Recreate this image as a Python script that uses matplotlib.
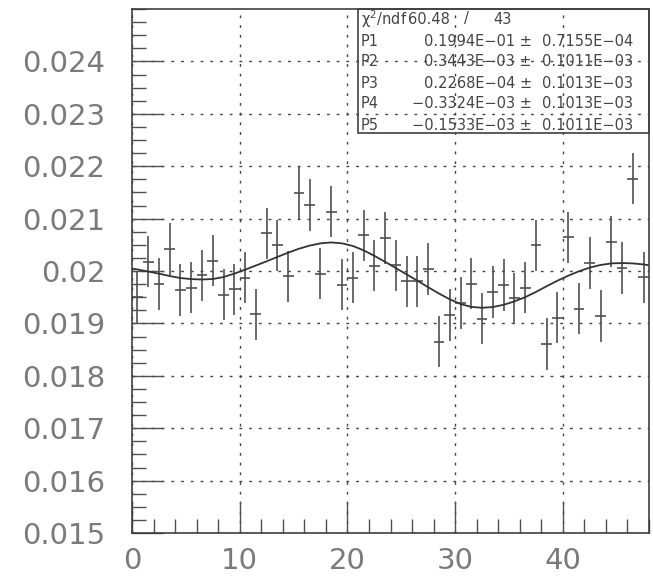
import numpy as np
import matplotlib
matplotlib.use("Agg")
import matplotlib.pyplot as plt
from matplotlib.ticker import MultipleLocator
from matplotlib.patches import Rectangle

# donnees (48 canaux de largeur 1)
nbins = 48
y = [0.01950, 0.02018, 0.01975, 0.02042, 0.01964, 0.01968, 0.01992, 0.02020,
     0.01955, 0.01965, 0.01987, 0.01917, 0.02072, 0.02049, 0.01990, 0.02149,
     0.02126, 0.01995, 0.02113, 0.01974, 0.01987, 0.02068, 0.02010, 0.02063,
     0.02011, 0.01980, 0.01980, 0.02004, 0.01865, 0.01916, 0.01939, 0.01976,
     0.01909, 0.01960, 0.01973, 0.01948, 0.01968, 0.02049, 0.01861, 0.01911,
     0.02064, 0.01928, 0.02015, 0.01914, 0.02056, 0.02006, 0.02176, 0.01988]
err = [0.00049] * nbins

# courbe d'ajustement (points relevés)
fit_x = [0, 0.5, 1.5, 2.5, 3.5, 4.5, 5.5, 6.5, 7.5, 8.5, 9.5, 10.5, 11.5, 12.5,
         13.5, 14.5, 15.5, 16.5, 17.5, 18.5, 19.5, 20.5, 21.5, 22.5, 23.5,
         24.5, 25.5, 26.5, 27.5, 28.5, 29.5, 30.5, 31.5, 32.5, 33.5, 34.5,
         35.5, 36.5, 37.5, 38.5, 39.5, 40.5, 41.5, 42.5, 43.5, 44.5, 45.5,
         46.5, 47.5, 48]
fit_y = [0.020045, 0.020030, 0.019990, 0.019949, 0.019904, 0.019866, 0.019845,
         0.019838, 0.019847, 0.019885, 0.019950, 0.020025, 0.020105, 0.020185,
         0.020268, 0.020350, 0.020425, 0.020485, 0.020528, 0.020545, 0.020528,
         0.020478, 0.020395, 0.020290, 0.020175, 0.020055, 0.019935, 0.019815,
         0.019690, 0.019570, 0.019460, 0.019370, 0.019315, 0.019298, 0.019312,
         0.019355, 0.019420, 0.019500, 0.019600, 0.019710, 0.019815, 0.019910,
         0.019995, 0.020065, 0.020115, 0.020145, 0.020152, 0.020145, 0.020125,
         0.020110]

xticks = [0, 10, 20, 30, 40]
yticks = [0.015, 0.016, 0.017, 0.018, 0.019, 0.020, 0.021, 0.022, 0.023, 0.024]
ylabels = ["0.015", "0.016", "0.017", "0.018", "0.019", "0.02",
           "0.021", "0.022", "0.023", "0.024"]

# boite de statistiques
stat_names = ["P1", "P2", "P3", "P4", "P5"]
stat_vals = ["0.1994E\u221201 \u00b1", "0.3443E\u221203 \u00b1", "0.2268E\u221204 \u00b1",
             "\u22120.3324E\u221203 \u00b1", "\u22120.1533E\u221203 \u00b1"]
stat_errs = ["0.7155E\u221204", "0.1011E\u221203", "0.1013E\u221203",
             "0.1013E\u221203", "0.1011E\u221203"]

W, H = 653, 578
gris = "#505050"

fig = plt.figure(figsize=(W / 100, H / 100), dpi=100)
ax = fig.add_axes([132 / W, 45 / H, 517 / W, 524 / H])

x = np.arange(nbins) + 0.5
ax.errorbar(x, y, yerr=err, xerr=0.5, fmt="none", ecolor=gris,
            elinewidth=1.2, capsize=0)
ax.plot(fit_x, fit_y, color="#333333", lw=1.3)

ax.set_xlim(0, 48)
ax.set_ylim(0.015, 0.025)
ax.set_xticks(xticks)
ax.set_xticklabels([str(v) for v in xticks])
ax.set_yticks(yticks)
ax.set_yticklabels(ylabels)
ax.xaxis.set_minor_locator(MultipleLocator(2))
ax.yaxis.set_minor_locator(MultipleLocator(0.00025))
ax.tick_params(which="major", direction="in", length=22, width=1, color=gris,
               labelsize=21, labelcolor="#7a7a7a")
ax.tick_params(which="minor", direction="in", length=10, width=1, color=gris)
ax.tick_params(axis="y", pad=19)
ax.tick_params(axis="x", pad=10)
ax.grid(which="major", linestyle=(0, (2, 5)), color="#444444", linewidth=1)
for s in ax.spines.values():
    s.set_color("#404040")
    s.set_linewidth(1.2)

# cadre des stats
ax.add_patch(Rectangle(((358 - 132) / 517, (533 - 133) / 524),
                       1 - (358 - 132) / 517, 1 - (533 - 133) / 524,
                       transform=ax.transAxes, fill=False,
                       edgecolor="#404040", lw=1.2, clip_on=False))

def fy(py):
    return 1 - py / H

fs = 10.5
c = "#444444"
fig.text(361 / W, fy(19), "\u03c7$^2$/ndf", fontsize=fs, color=c, va="center")
fig.text(408 / W, fy(19), "60.48", fontsize=fs, color=c, va="center")
fig.text(466 / W, fy(19), "/", fontsize=fs, color=c, va="center", ha="center")
fig.text(512 / W, fy(19), "43", fontsize=fs, color=c, va="center", ha="right")
rows = [41, 62, 83, 104, 125]
for i in range(5):
    fig.text(361 / W, fy(rows[i]), stat_names[i], fontsize=fs, color=c, va="center")
    fig.text(532 / W, fy(rows[i]), stat_vals[i], fontsize=fs, color=c,
             va="center", ha="right")
    fig.text(542 / W, fy(rows[i]), stat_errs[i], fontsize=fs, color=c, va="center")

fig.savefig("out.png", dpi=100)
